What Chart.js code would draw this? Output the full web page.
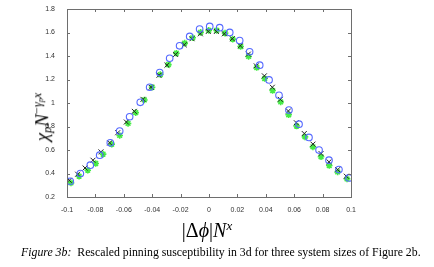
<!DOCTYPE html>
<html>
<head>
<meta charset="utf-8">
<script src="https://cdn.jsdelivr.net/npm/chart.js@4.4.1/dist/chart.umd.min.js"></script>
<style>
  html, body { margin:0; padding:0; background:#fff; }
  #wrap { position:relative; width:434px; height:267px; overflow:hidden; }
  canvas { position:absolute; left:0; top:0; }
  .t { position:absolute; font-family:"Liberation Serif","Times New Roman",serif; color:#000; white-space:nowrap; }
  #ytitle { left:43px; top:117px; font-size:19px; transform:translate(-50%,-50%) rotate(-90deg); }
  #xtitle { left:207px; top:230px; font-size:20px; transform:translate(-50%,-50%); }
  #caption { left:21px; top:245px; font-size:11.8px; }
  sup { font-size:65%; vertical-align:0.6em; }
  sub { font-size:65%; vertical-align:-0.25em; }
</style>
</head>
<body>
<div id="wrap">
  <canvas id="c" width="434" height="267"></canvas>
  <div class="t" id="ytitle"><i>χ</i><sub><i>p</i></sub><i>N</i><sup>−<i>γ</i><sub><i>p</i></sub><i>x</i></sup></div>
  <div class="t" id="xtitle">|Δ<i>ϕ</i>|<i>N</i><sup><i>x</i></sup></div>
  <div class="t" id="caption"><i>Figure 3b:</i>&nbsp; Rescaled pinning susceptibility in 3d for three system sizes of Figure 2b.</div>
</div>
<script>
// Tick labels
const xTickValues = [-0.1, -0.08, -0.06, -0.04, -0.02, 0, 0.02, 0.04, 0.06, 0.08, 0.1];
const xTickLabels = ["-0.1", "-0.08", "-0.06", "-0.04", "-0.02", "0", "0.02", "0.04", "0.06", "0.08", "0.1"];
const yTickValues = [0.2, 0.4, 0.6, 0.8, 1.0, 1.2, 1.4, 1.6, 1.8];
const yTickLabels = ["0.2", "0.4", "0.6", "0.8", "1", "1.2", "1.4", "1.6", "1.8"];

// Series 1: blue circles
const circleX = [-0.0977, -0.0906, -0.0836, -0.0770, -0.0695, -0.0629, -0.0559, -0.0484, -0.0418, -0.0347,
  -0.0277, -0.0207, -0.0136, -0.0066, 0.0005, 0.0075, 0.0146, 0.0216, 0.0286, 0.0357,
  0.0423, 0.0493, 0.0563, 0.0634, 0.0704, 0.0775, 0.0845, 0.0915, 0.0986];
const circleY = [0.334, 0.400, 0.471, 0.556, 0.661, 0.761, 0.883, 1.006, 1.134, 1.259,
  1.381, 1.487, 1.567, 1.629, 1.652, 1.641, 1.601, 1.532, 1.436, 1.322,
  1.196, 1.066, 0.940, 0.820, 0.707, 0.599, 0.513, 0.433, 0.362];

// Series 2: black crosses
const crossX = [-0.0984, -0.0925, -0.0873, -0.0817, -0.0761, -0.0700, -0.0643, -0.0582, -0.0526, -0.0465,
  -0.0408, -0.0352, -0.0296, -0.0235, -0.0174, -0.0120, -0.0061, -0.0005, 0.0052, 0.0108,
  0.0164, 0.0221, 0.0277, 0.0333, 0.0390, 0.0446, 0.0502, 0.0559, 0.0615, 0.0671,
  0.0732, 0.0789, 0.0845, 0.0906, 0.0967];
const crossY = [0.342, 0.394, 0.447, 0.513, 0.584, 0.661, 0.747, 0.838, 0.929, 1.031,
  1.134, 1.236, 1.322, 1.413, 1.495, 1.547, 1.589, 1.609, 1.609, 1.589,
  1.547, 1.487, 1.416, 1.316, 1.231, 1.134, 1.031, 0.932, 0.832, 0.740,
  0.650, 0.570, 0.499, 0.433, 0.377];

// Series 3: green stars
const starX = [-0.0972, -0.0915, -0.0854, -0.0798, -0.0746, -0.0685, -0.0629, -0.0570, -0.0516, -0.0455,
  -0.0401, -0.0343, -0.0286, -0.0230, -0.0171, -0.0115, -0.0059, -0.0002, 0.0054, 0.0113,
  0.0167, 0.0223, 0.0279, 0.0336, 0.0392, 0.0448, 0.0505, 0.0561, 0.0617, 0.0676,
  0.0732, 0.0789, 0.0847, 0.0906, 0.0972];
const starY = [0.320, 0.377, 0.428, 0.485, 0.565, 0.650, 0.724, 0.826, 0.918, 1.026,
  1.134, 1.242, 1.327, 1.424, 1.510, 1.555, 1.601, 1.618, 1.618, 1.595,
  1.544, 1.481, 1.396, 1.302, 1.208, 1.106, 1.009, 0.900, 0.804, 0.712,
  0.627, 0.542, 0.468, 0.413, 0.354];

const toPts = (xs, ys) => xs.map((x, i) => ({x: x, y: ys[i]}));

const boxTicks = {
  id: 'boxTicks',
  afterDatasetsDraw(chart) {
    const {ctx, chartArea: a, scales} = chart;
    ctx.save();
    ctx.strokeStyle = '#6e6e6e';
    ctx.lineWidth = 1;
    ctx.strokeRect(Math.round(a.left) + 0.5, Math.round(a.top) + 0.5,
      Math.round(a.right - a.left), Math.round(a.bottom - a.top));
    const L = 3;
    ctx.beginPath();
    xTickValues.forEach(v => {
      const px = Math.round(scales.x.getPixelForValue(v)) + 0.5;
      ctx.moveTo(px, a.bottom); ctx.lineTo(px, a.bottom - L);
      ctx.moveTo(px, a.top); ctx.lineTo(px, a.top + L);
    });
    yTickValues.forEach(v => {
      const py = Math.round(scales.y.getPixelForValue(v)) + 0.5;
      ctx.moveTo(a.left, py); ctx.lineTo(a.left + L, py);
      ctx.moveTo(a.right, py); ctx.lineTo(a.right - L, py);
    });
    ctx.stroke();
    ctx.restore();
  }
};

new Chart(document.getElementById('c'), {
  type: 'scatter',
  data: {
    datasets: [
      { label: 'circles', data: toPts(circleX, circleY), pointStyle: 'circle', pointRadius: 3.3,
        borderColor: 'rgb(85,105,255)', backgroundColor: 'rgba(0,0,0,0)', borderWidth: 1.1 },
      { label: 'crosses', data: toPts(crossX, crossY), pointStyle: 'crossRot', pointRadius: 3.5,
        borderColor: '#222', backgroundColor: '#222', borderWidth: 1 },
      { label: 'stars', data: toPts(starX, starY), pointStyle: 'star', pointRadius: 3.3,
        borderColor: 'rgb(70,235,70)', backgroundColor: 'rgb(70,235,70)', borderWidth: 1.6 }
    ]
  },
  options: {
    responsive: false,
    animation: false,
    events: [],
    layout: { padding: { left: 0, right: 83, top: 9, bottom: 0 } },
    plugins: { legend: { display: false }, tooltip: { enabled: false } },
    scales: {
      x: {
        type: 'linear', min: -0.1, max: 0.1,
        afterFit: s => { s.height = 70; },
        afterBuildTicks: s => { s.ticks = xTickValues.map(v => ({value: v})); },
        grid: { display: false }, border: { display: false },
        ticks: { padding: 1, maxRotation: 0, autoSkip: false, color: '#333',
          font: { family: 'Liberation Sans', size: 7 },
          callback: (v) => { const i = xTickValues.findIndex(t => Math.abs(t - v) < 1e-9); return i >= 0 ? xTickLabels[i] : ''; } }
      },
      y: {
        type: 'linear', min: 0.2, max: 1.8,
        afterFit: s => { s.width = 67; },
        afterBuildTicks: s => { s.ticks = yTickValues.map(v => ({value: v})); },
        grid: { display: false }, border: { display: false },
        ticks: { padding: 4, autoSkip: false, color: '#333',
          font: { family: 'Liberation Sans', size: 7 },
          callback: (v) => { const i = yTickValues.findIndex(t => Math.abs(t - v) < 1e-9); return i >= 0 ? yTickLabels[i] : ''; } }
      }
    }
  },
  plugins: [boxTicks]
});
</script>
</body>
</html>
